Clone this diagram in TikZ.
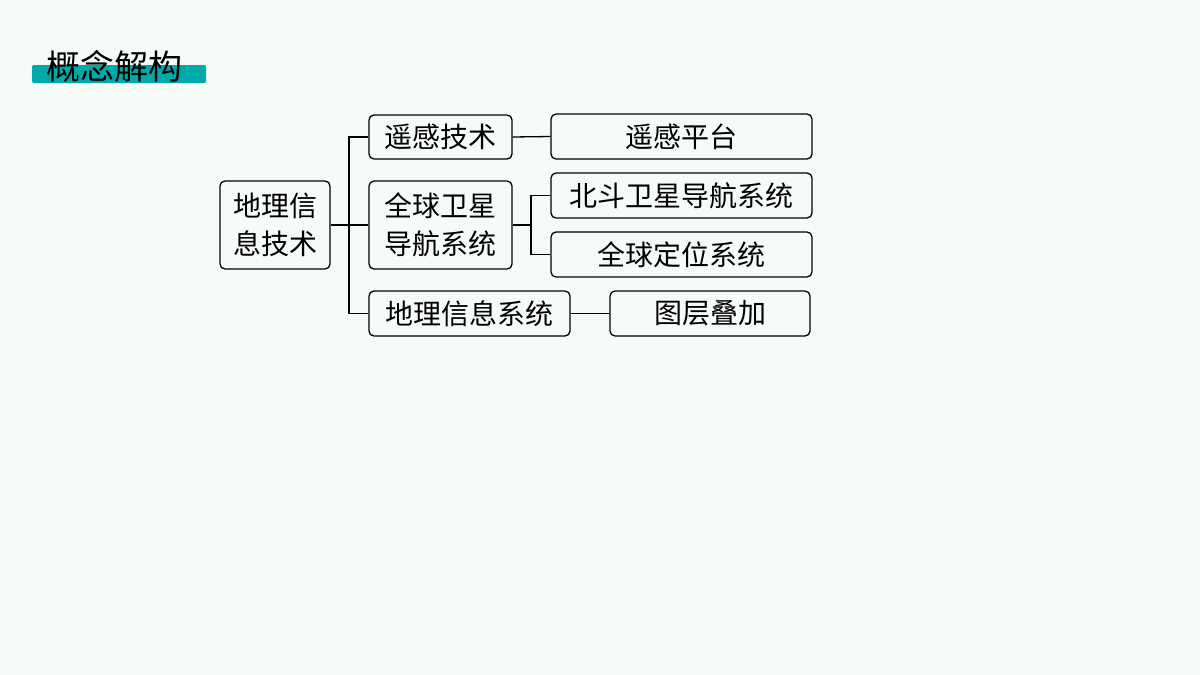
\documentclass[tikz,border=0pt]{standalone}
\usepackage{fontspec}
\newfontfamily\cjk{Noto Sans CJK SC}
\definecolor{bgc}{RGB}{247,251,248}
\definecolor{barc}{RGB}{0,170,170}
\begin{document}
\begin{tikzpicture}[x=1pt,y=-1pt,thick,
  box/.style={draw,line width=1.3pt,rounded corners=5pt,inner sep=0pt,font=\cjk\fontsize{28}{38}\selectfont,align=center},
  link/.style={-,line width=1.3pt}]
  \fill[bgc] (0,0) rectangle (1200,675);
  \useasboundingbox (0,0) rectangle (1200,675);
  \fill[barc,rounded corners=2pt] (32,65) rectangle (206,83);
  \node[font=\cjk\fontsize{34}{34}\selectfont,anchor=base west,inner sep=0pt] (title) at (46,79) {概念解构};

  \node[box,minimum width=110,minimum height=88] (root) at (275,225) {地理信\\息技术};
  \node[box,minimum width=143,minimum height=44] (rs) at (440.5,137) {遥感技术};
  \node[box,minimum width=143,minimum height=88] (gnss) at (440.5,225) {全球卫星\\导航系统};
  \node[box,minimum width=201,minimum height=45] (gis) at (469.5,313.5) {地理信息系统};
  \node[box,minimum width=261,minimum height=45] (plat) at (681.5,136.5) {遥感平台};
  \node[box,minimum width=261,minimum height=45] (bds) at (681.5,195.5) {北斗卫星导航系统};
  \node[box,minimum width=261,minimum height=45] (gps) at (681.5,254.5) {全球定位系统};
  \node[box,minimum width=200,minimum height=45] (layer) at (710,313.5) {图层叠加};

  \coordinate (j1) at (349,225);
  \coordinate (j2) at (531,225);
  \draw[link] (root.east) -- (j1);
  \draw[link] (j1) |- (rs.west);
  \draw[link] (j1) |- (gnss.west);
  \draw[link] (j1) |- (gis.west);
  \draw[link] (rs.east) -- (plat.west);
  \draw[link] (gnss.east) -- (j2);
  \draw[link] (j2) |- (bds.west);
  \draw[link] (j2) |- (gps.west);
  \draw[link] (gis.east) -- (layer.west);
\end{tikzpicture}
\end{document}
